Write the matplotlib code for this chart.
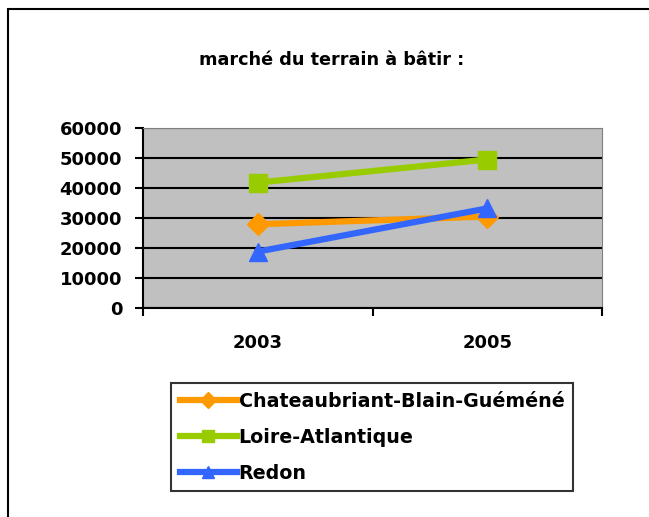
import matplotlib.pyplot as plt
from matplotlib.patches import Rectangle

plt.rcParams['font.family'] = ['DejaVu Sans']
plt.rcParams['font.weight'] = 'bold'

# Données
annees = ['2003', '2005']
chateaubriant = [27900, 30500]
loire_atlantique = [41800, 49500]
redon = [18800, 33200]

series = [
    ('Chateaubriant-Blain-Guéméné', chateaubriant, '#FF9900', 'D'),
    ('Loire-Atlantique', loire_atlantique, '#99CC00', 's'),
    ('Redon', redon, '#3366FF', '^'),
]

fig = plt.figure(figsize=(6.49, 5.17), dpi=100)

# Cadre extérieur (coupé à droite et en bas)
fig.patches.append(Rectangle((8 / 649, -0.1), 1.0, 1 - 9 / 517 + 0.1,
                             transform=fig.transFigure, fill=False,
                             edgecolor='black', linewidth=1.5))

ax = fig.add_axes([143 / 649, 1 - 308 / 517, (602 - 143) / 649, (308 - 128) / 517])
ax.set_facecolor('#C0C0C0')

x = list(range(len(annees)))
handles = []
for nom, vals, coul, mk in series:
    h, = ax.plot(x, vals, color=coul, linewidth=4.5, marker=mk,
                 markersize=13 if mk != 'D' else 11, label=nom, zorder=3)
    handles.append(h)

ax.set_xlim(-0.5, len(annees) - 0.5)
ax.set_ylim(0, 60000)
ax.set_yticks(range(0, 60001, 10000))
ax.set_xticks([-0.5, 0.5, 1.5])
ax.set_xticklabels([])
ax.set_xticks(x, minor=True)
ax.set_xticklabels(annees, minor=True)
ax.tick_params(axis='x', which='minor', length=0, pad=19, labelsize=13)
ax.tick_params(axis='x', which='major', length=6, width=1.5, direction='out')
ax.tick_params(axis='y', length=6, width=1.5, direction='out', labelsize=13, pad=9)
for lab in ax.get_xticklabels(minor=True) + ax.get_yticklabels():
    lab.set_fontweight('bold')

ax.grid(axis='y', color='black', linewidth=1.5, zorder=1)
ax.set_axisbelow(True)
ax.spines['left'].set_linewidth(1.5)
ax.spines['bottom'].set_linewidth(1.5)
ax.spines['top'].set_color('#808080')
ax.spines['right'].set_color('#808080')

fig.text(332 / 649, 1 - 60 / 517, 'marché du terrain à bâtir :', ha='center', va='center',
         fontsize=12.7, fontweight='bold')

leg = fig.legend(handles=handles, loc='upper left',
                 bbox_to_anchor=(171 / 649, 1 - 383 / 517), bbox_transform=fig.transFigure,
                 frameon=True, fancybox=False, edgecolor='black', fontsize=13.7,
                 handlelength=3.0, handletextpad=0.1, borderaxespad=0, borderpad=0.45,
                 labelspacing=0.9, markerscale=0.7)
leg.get_frame().set_linewidth(1.5)
for t in leg.get_texts():
    t.set_fontweight('bold')

fig.savefig('out.png', dpi=100)
